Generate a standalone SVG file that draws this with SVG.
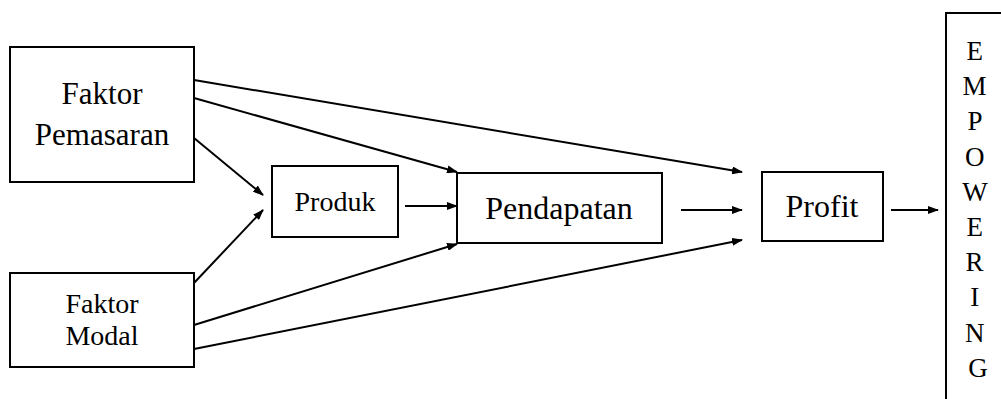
<svg xmlns="http://www.w3.org/2000/svg" width="1001" height="399" viewBox="0 0 1001 399">
<style>
.box{fill:#fff;stroke:#000;stroke-width:2}
.t{fill:#000;text-anchor:middle}
.c{stroke:#000;stroke-width:2;fill:none;marker-end:url(#ah)}
</style>
<defs>
<marker id="ah" markerUnits="userSpaceOnUse" markerWidth="11" markerHeight="8" refX="10" refY="4" orient="auto">
<path d="M0,0 L11,4 L0,8 z" fill="#000"/>
</marker>
</defs>
<rect width="1001" height="399" fill="#fff"/>
<g id="connectors">
<line class="c" x1="194" y1="80" x2="742" y2="172"/>
<line class="c" x1="194" y1="98" x2="457" y2="172"/>
<line class="c" x1="194" y1="138" x2="263" y2="195"/>
<line class="c" x1="194" y1="283" x2="263" y2="210"/>
<line class="c" x1="194" y1="325" x2="457" y2="244"/>
<line class="c" x1="194" y1="349" x2="742" y2="240"/>
<line class="c" x1="405" y1="206" x2="457" y2="206"/>
<line class="c" x1="681" y1="210" x2="742" y2="210"/>
<line class="c" x1="891" y1="210" x2="938" y2="210"/>
</g>
<g id="faktor-pemasaran" font-family="Liberation Serif, serif">
<rect class="box" x="10" y="47" width="184" height="135"/>
<text class="t" x="102" y="104" font-size="31">Faktor</text>
<text class="t" x="102" y="145" font-size="31">Pemasaran</text>
</g>
<g id="faktor-modal" font-family="Liberation Serif, serif">
<rect class="box" x="10" y="273" width="184" height="94"/>
<text class="t" x="102" y="313" font-size="28">Faktor</text>
<text class="t" x="102" y="345" font-size="28">Modal</text>
</g>
<g id="produk" font-family="Liberation Serif, serif">
<rect class="box" x="272" y="166" width="126" height="71"/>
<text class="t" x="335" y="211" font-size="28">Produk</text>
</g>
<g id="pendapatan" font-family="Liberation Serif, serif">
<rect class="box" x="457" y="173" width="205" height="70"/>
<text class="t" x="559" y="219" font-size="32">Pendapatan</text>
</g>
<g id="profit" font-family="Liberation Serif, serif">
<rect class="box" x="762" y="172" width="121" height="69"/>
<text class="t" x="822" y="217" font-size="32">Profit</text>
</g>
<g id="empowering" font-family="Liberation Serif, serif">
<rect class="box" x="946" y="13" width="80" height="420"/>
<text class="t" font-size="27">
<tspan x="978" y="60">E</tspan>
<tspan x="978" y="95.2">M</tspan>
<tspan x="978" y="130.4">P</tspan>
<tspan x="978" y="165.6">O</tspan>
<tspan x="978" y="200.8">W</tspan>
<tspan x="978" y="236">E</tspan>
<tspan x="978" y="271.2">R</tspan>
<tspan x="978" y="306.4">I</tspan>
<tspan x="978" y="341.6">N</tspan>
<tspan x="978" y="376.8">G</tspan>
</text>
</g>
</svg>
